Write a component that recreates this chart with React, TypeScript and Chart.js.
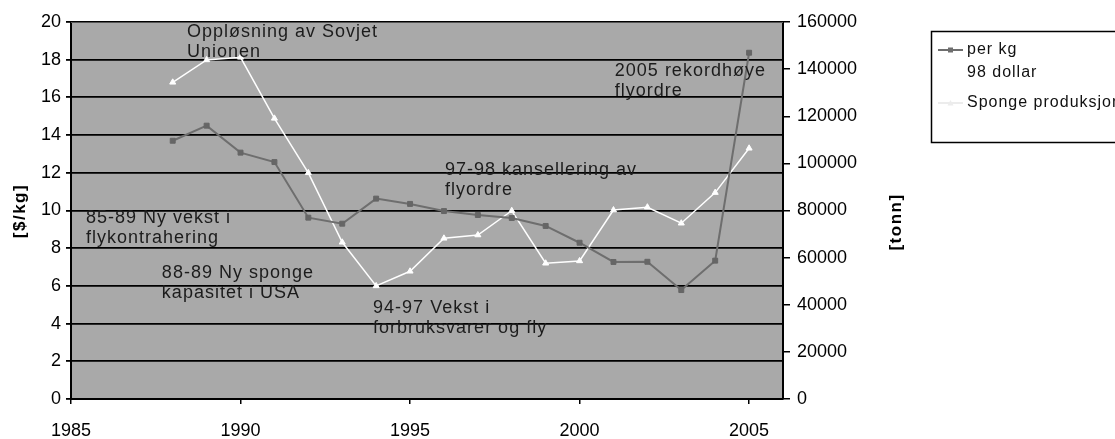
import { useEffect, useRef } from "react";
import { Chart, registerables } from "chart.js";

Chart.register(...registerables);

const years = [1988, 1989, 1990, 1991, 1992, 1993, 1994, 1995, 1996, 1997, 1998, 1999, 2000, 2001, 2002, 2003, 2004, 2005];
const pricePerKg = [13.7, 14.5, 13.07, 12.57, 9.62, 9.3, 10.63, 10.35, 9.97, 9.76, 9.6, 9.18, 8.29, 7.27, 7.28, 5.78, 7.34, 18.37];
const spongeTonn = [134400, 143900, 145000, 119100, 96000, 66500, 48000, 54200, 68200, 69600, 79900, 57600, 58600, 80200, 81400, 74600, 87600, 106400];

const xTicks = [1985, 1990, 1995, 2000, 2005];
const leftTicks = [0, 2, 4, 6, 8, 10, 12, 14, 16, 18, 20];
const rightTicks = [0, 20000, 40000, 60000, 80000, 100000, 120000, 140000, 160000];

const priceLabel = ["per kg", "98 dollar"];
const spongeLabel = ["Sponge produksjon"];
const leftTitle = "[$/kg]";
const rightTitle = "[tonn]";

// annotation anchors in data coordinates (year, $/kg)
const annotationTexts = [
  ["Oppløsning av Sovjet", "Unionen"],
  ["2005 rekordhøye", "flyordre"],
  ["97-98 kansellering av", "flyordre"],
  ["85-89 Ny vekst i", "flykontrahering"],
  ["88-89 Ny sponge", "kapasitet i USA"],
  ["94-97 Vekst i", "forbruksvarer og fly"],
];
const annotationYears = [1988.42, 2001.04, 1996.03, 1985.44, 1987.68, 1993.91];
const annotationValues = [19.47, 17.4, 12.15, 9.6, 6.68, 4.83];

const FONT = "'Liberation Sans', Arial, sans-serif";

export default function App() {
  const ref = useRef<HTMLCanvasElement>(null);

  useEffect(() => {
    if (!ref.current) return;

    const decor = {
      id: "decor",
      beforeDraw(chart: any) {
        const { ctx, chartArea: a } = chart;
        ctx.save();
        ctx.fillStyle = "#a9a9a9";
        ctx.fillRect(a.left, a.top, a.right - a.left, a.bottom - a.top);
        ctx.restore();
      },
      afterDraw(chart: any) {
        const { ctx, chartArea: a } = chart;
        const xs = chart.scales.x;
        const yl = chart.scales.y;
        ctx.save();
        // plot top border
        ctx.strokeStyle = "#555";
        ctx.lineWidth = 1;
        ctx.beginPath();
        ctx.moveTo(a.left, a.top + 0.5);
        ctx.lineTo(a.right, a.top + 0.5);
        ctx.stroke();

        // annotations
        ctx.fillStyle = "#1c1c1c";
        ctx.font = `18px ${FONT}`;
        (ctx as any).letterSpacing = "1px";
        ctx.textAlign = "left";
        ctx.textBaseline = "middle";
        annotationTexts.forEach((lines, i) => {
          const px = xs.getPixelForValue(annotationYears[i]);
          const py = yl.getPixelForValue(annotationValues[i]);
          lines.forEach((t, j) => ctx.fillText(t, px, py + j * 20));
        });

        // axis titles
        (ctx as any).letterSpacing = "1.5px";
        ctx.font = `bold 17px ${FONT}`;
        ctx.fillStyle = "#000";
        ctx.textAlign = "center";
        const titles = [
          { t: leftTitle, x: 20, y: 211 },
          { t: rightTitle, x: 896, y: 222 },
        ];
        titles.forEach((o) => {
          ctx.save();
          ctx.translate(o.x, o.y);
          ctx.rotate(-Math.PI / 2);
          ctx.fillText(o.t, 0, 0);
          ctx.restore();
        });

        // legend
        (ctx as any).letterSpacing = "1px";
        ctx.fillStyle = "#fff";
        ctx.fillRect(931.5, 31.5, 200, 111);
        ctx.strokeStyle = "#000";
        ctx.lineWidth = 1.5;
        ctx.strokeRect(931.5, 31.5, 200, 111);
        ctx.font = `16px ${FONT}`;
        ctx.fillStyle = "#111";
        ctx.textAlign = "left";
        const ds = chart.data.datasets;
        const entries = [
          { lines: ds[0].label as string[], y: 50, color: "#6e6e6e", pt: "rect" },
          { lines: ds[1].label as string[], y: 103, color: "#ececec", pt: "tri" },
        ];
        entries.forEach((e) => {
          ctx.strokeStyle = e.color;
          ctx.lineWidth = 2;
          ctx.beginPath();
          ctx.moveTo(938, e.y);
          ctx.lineTo(963, e.y);
          ctx.stroke();
          ctx.fillStyle = e.color;
          if (e.pt === "rect") ctx.fillRect(948, e.y - 2.5, 5, 5);
          else {
            ctx.beginPath();
            ctx.moveTo(950.5, e.y - 3);
            ctx.lineTo(953.5, e.y + 2.5);
            ctx.lineTo(947.5, e.y + 2.5);
            ctx.closePath();
            ctx.fill();
          }
          ctx.fillStyle = "#111";
          e.lines.forEach((t, j) => ctx.fillText(t, 967, e.y + j * 23));
        });
        (ctx as any).letterSpacing = "0px";
        ctx.restore();
      },
    };

    const chart = new Chart(ref.current, {
      type: "line",
      data: {
        datasets: [
          {
            label: priceLabel as any,
            data: years.map((y, i) => ({ x: y, y: pricePerKg[i] })),
            yAxisID: "y",
            borderColor: "#6e6e6e",
            backgroundColor: "#666666",
            borderWidth: 2,
            pointStyle: "rect",
            pointRadius: 3.5,
            pointBorderWidth: 1,
            pointBorderColor: "#666666",
            tension: 0,
          },
          {
            label: spongeLabel as any,
            data: years.map((y, i) => ({ x: y, y: spongeTonn[i] })),
            yAxisID: "y1",
            borderColor: "#ffffff",
            backgroundColor: "#ffffff",
            borderWidth: 1.5,
            pointStyle: "triangle",
            pointRadius: 3.5,
            pointBorderWidth: 1,
            pointBorderColor: "#ffffff",
            tension: 0,
          },
        ],
      },
      options: {
        animation: false,
        responsive: false,
        maintainAspectRatio: false,
        layout: { padding: { top: 22, left: 0, right: 0, bottom: 0 } },
        plugins: { legend: { display: false }, tooltip: { enabled: false } },
        scales: {
          x: {
            type: "linear",
            min: 1985,
            max: 2006,
            afterBuildTicks: (s: any) => {
              s.ticks = xTicks.map((v) => ({ value: v }));
            },
            afterFit: (s: any) => {
              s.height = 40;
            },
            grid: { drawOnChartArea: false, color: "#000", tickLength: 5, lineWidth: 1.5 },
            border: { color: "#000", width: 2 },
            ticks: {
              color: "#000",
              font: { family: FONT, size: 18 },
              padding: 16,
              maxRotation: 0,
              callback: (v: any) => String(v),
            },
          },
          y: {
            type: "linear",
            position: "left",
            min: 0,
            max: 20,
            afterBuildTicks: (s: any) => {
              s.ticks = leftTicks.map((v) => ({ value: v }));
            },
            afterFit: (s: any) => {
              s.width = 71;
            },
            grid: { color: "#000", lineWidth: 1.8, tickLength: 5 },
            border: { color: "#000", width: 2 },
            ticks: { color: "#000", font: { family: FONT, size: 18 }, padding: 5 },
          },
          y1: {
            type: "linear",
            position: "right",
            min: 0,
            max: 160000,
            afterBuildTicks: (s: any) => {
              s.ticks = rightTicks.map((v) => ({ value: v }));
            },
            afterFit: (s: any) => {
              s.width = 1115 - 783;
            },
            grid: { drawOnChartArea: false, color: "#000", tickLength: 7, lineWidth: 1.5 },
            border: { color: "#000", width: 2 },
            ticks: { color: "#000", font: { family: FONT, size: 18 }, padding: 7, callback: (v: any) => String(v) },
          },
        },
      },
      plugins: [decor],
    });

    return () => chart.destroy();
  }, []);

  return (
    <div style={{ position: "fixed", left: 0, top: 0, width: 1115, height: 439, background: "#fff" }}>
      <canvas ref={ref} width={1115} height={439} style={{ display: "block", width: 1115, height: 439 }} />
    </div>
  );
}
